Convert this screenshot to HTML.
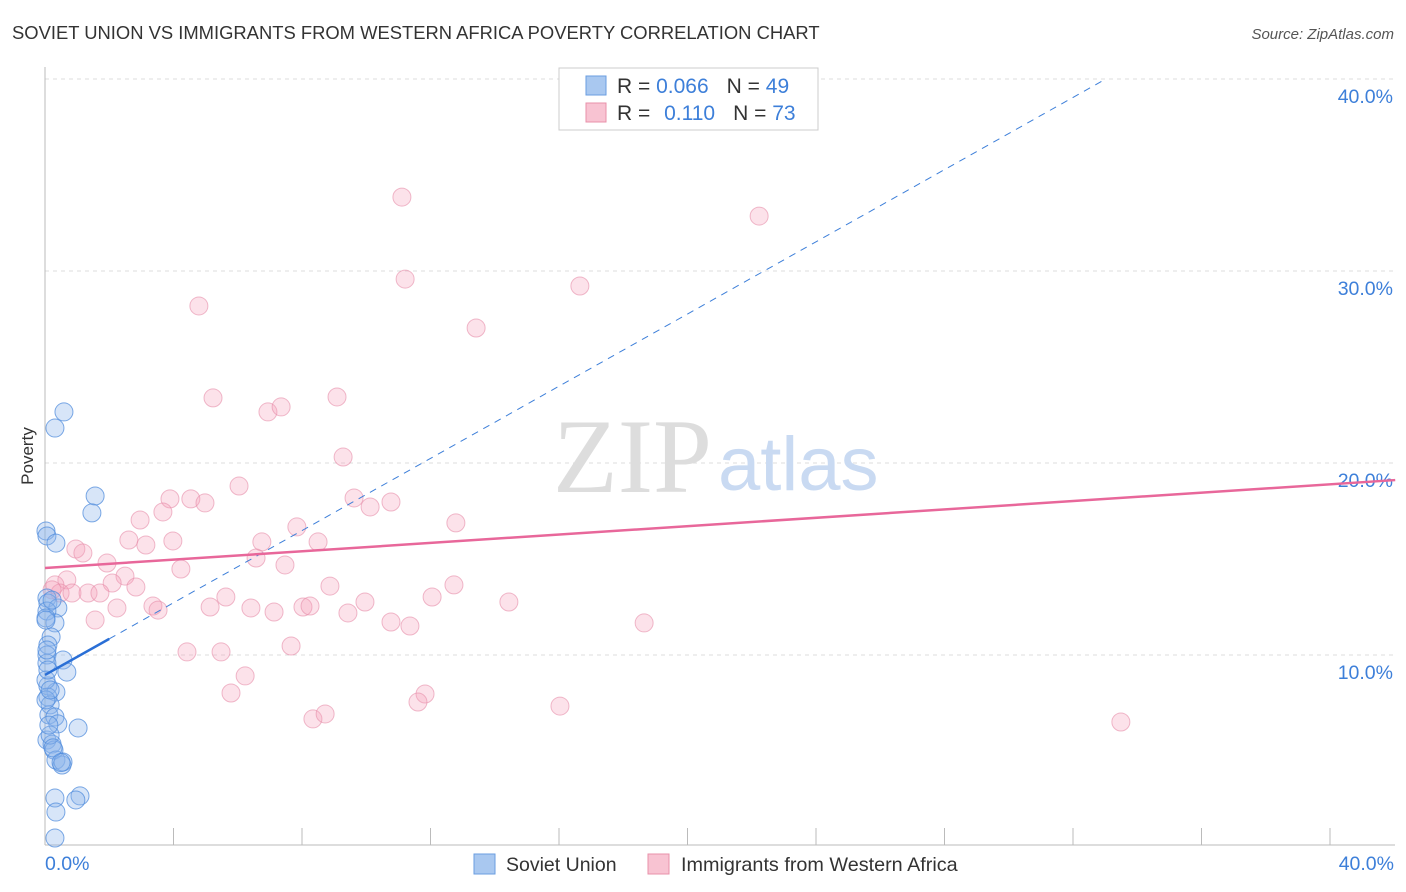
<!DOCTYPE html>
<html><head><meta charset="utf-8"><style>
body{margin:0;background:#fff;font-family:"Liberation Sans",sans-serif}
svg{display:block}
</style></head><body>
<svg id="chart" width="1406" height="892">
<text x="12" y="39" font-size="18.4" fill="#333">SOVIET UNION VS IMMIGRANTS FROM WESTERN AFRICA POVERTY CORRELATION CHART</text>
<text x="1394" y="39" font-size="15" fill="#555" font-style="italic" text-anchor="end">Source: ZipAtlas.com</text>
<text x="0" y="0" transform="translate(33,456) rotate(-90)" font-size="17" fill="#333" text-anchor="middle">Poverty</text>
<g id="grid"></g>
<text x="553" y="492" font-size="106" font-family="Liberation Serif,serif" fill="#ddd">ZIP</text>
<text x="718" y="490" font-size="76" fill="#c9daf2">atlas</text>
<g id="marks"></g>
<g>
<rect x="559" y="68" width="259" height="62" fill="#fff" stroke="#ccc"/>
<rect x="586" y="76" width="20" height="19" fill="#a9c8f0" stroke="#6a9ee0"/>
<text x="617" y="93" font-size="21" fill="#333">R = <tspan fill="#3d7fd9">0.066</tspan><tspan dx="18" fill="#333">N = </tspan><tspan fill="#3d7fd9">49</tspan></text>
<rect x="586" y="103" width="20" height="19" fill="#f8c3d2" stroke="#e890aa"/>
<text x="617" y="120" font-size="21" fill="#333">R = <tspan dx="8" fill="#3d7fd9">0.110</tspan><tspan dx="18" fill="#333">N = </tspan><tspan fill="#3d7fd9">73</tspan></text>
</g>
<g>
<rect x="474" y="854" width="21" height="20" fill="#a9c8f0" stroke="#6a9ee0"/>
<text x="506" y="871" font-size="19.5" fill="#333">Soviet Union</text>
<rect x="648" y="854" width="21" height="20" fill="#f8c3d2" stroke="#e890aa"/>
<text x="681" y="871" font-size="19.8" fill="#333">Immigrants from Western Africa</text>
</g>
</svg>
<script>
const yTicks=[10,20,30,40];
const yTickLabels=["10.0%","20.0%","30.0%","40.0%"];
const xTicks=[0,4,8,12,16,20,24,28,32,36,40];
const sovietX=[0.59,0.31,1.56,1.46,0.03,0.06,0.34,0.06,0.09,0.40,0.06,0.31,0.19,0.09,0.06,0.56,0.06,0.68,0.09,0.34,0.09,0.16,0.12,0.31,0.40,1.03,0.06,0.22,0.28,0.34,0.53,0.56,0.31,1.09,0.96,0.34,0.31,0.03,0.03,0.03,0.16,0.06,0.22,0.03,0.16,0.25,0.50,0.09,0.12];
const sovietY=[22.66,21.82,18.28,17.40,16.46,16.20,15.83,12.97,12.71,12.45,12.29,11.67,10.94,10.52,10.0,9.74,9.58,9.11,8.39,8.07,7.81,7.40,6.88,6.77,6.41,6.20,5.57,5.36,5.05,4.53,4.27,4.43,2.55,2.66,2.45,1.82,0.47,11.93,8.70,7.66,5.83,10.26,12.86,11.82,8.18,5.16,4.40,9.22,6.35];
const wafX=[11.11,22.23,11.21,4.79,16.65,13.42,5.23,6.94,7.35,9.09,9.28,6.04,4.54,4.98,3.89,3.67,2.96,9.62,10.12,10.77,12.79,7.84,6.75,8.50,2.61,3.14,3.98,6.57,7.47,4.23,0.96,1.18,1.93,2.49,2.09,2.83,0.68,0.31,0.47,0.22,0.84,1.34,1.71,5.63,8.87,12.73,12.05,9.96,3.36,3.52,2.24,5.14,6.41,7.13,8.03,8.25,9.43,10.77,11.36,14.44,18.65,1.56,4.42,5.48,7.66,6.23,5.79,11.83,11.61,16.03,8.34,8.72,33.49];
const wafY=[33.85,32.86,29.58,28.18,29.22,27.03,23.39,22.66,22.92,23.44,20.31,18.80,18.13,17.92,18.13,17.45,17.03,18.18,17.71,17.97,16.88,16.67,15.89,15.89,15.99,15.73,15.94,15.05,14.69,14.48,15.52,15.31,14.79,14.11,13.75,13.54,13.91,13.65,13.23,13.39,13.23,13.23,13.23,13.02,13.59,13.65,13.02,12.76,12.55,12.34,12.45,12.50,12.45,12.24,12.50,12.55,12.19,11.72,11.51,12.76,11.67,11.82,10.16,10.16,10.47,8.91,8.02,7.97,7.55,7.34,6.67,6.93,6.51];
const sovietTrend=[8.96,0.94];
const wafTrend=[14.53,0.109];
const X=v=>45+v*32.125, Y=v=>847-v*19.2;
const NS="http://www.w3.org/2000/svg";
function mk(tag,attrs,parent){const e=document.createElementNS(NS,tag);for(const k in attrs)e.setAttribute(k,attrs[k]);parent.appendChild(e);return e;}
const grid=document.getElementById('grid'), marks=document.getElementById('marks');
yTicks.forEach((t,i)=>{
 const l=mk('line',{x1:45,x2:1395,y1:Y(t),y2:Y(t),stroke:'#ddd','stroke-dasharray':'4,4'},grid);
 
 
 const tx=mk('text',{x:1393,y:Y(t)+24,'font-size':19.5,fill:'#3d7fd9','text-anchor':'end'},grid);
 tx.textContent=yTickLabels[i];
 
 
});
const ax=mk('line',{x1:45,x2:1395,y1:845,y2:845,stroke:'#bbb'},grid);


const ay=mk('line',{x1:45,x2:45,y1:67,y2:845,stroke:'#bbb'},grid);


xTicks.forEach(t=>{
 const l=mk('line',{x1:X(t),x2:X(t),y1:828,y2:845,stroke:'#bbb'},grid);
 
 
});
[[0,"0.0%",'start',45],[40,"40.0%",'end',1394]].forEach(d=>{
 const tx=mk('text',{x:d[3],y:870,'font-size':19.5,fill:'#3d7fd9','text-anchor':d[2]},grid);
 tx.textContent=d[1];
 
 
});
wafX.forEach((x,i)=>{
 const c=mk('circle',{cx:X(x),cy:Y(wafY[i]),r:9,fill:'rgba(244,160,185,0.3)',stroke:'rgba(230,140,168,0.6)','stroke-width':1},marks);
 
 
});
sovietX.forEach((x,i)=>{
 const c=mk('circle',{cx:X(x),cy:Y(sovietY[i]),r:9,fill:'rgba(140,180,235,0.35)',stroke:'rgba(80,140,220,0.75)','stroke-width':1},marks);
 
 
});
const xEnd=(40-sovietTrend[0])/sovietTrend[1];
const d1=mk('line',{x1:X(2),y1:Y(sovietTrend[0]+2*sovietTrend[1]),x2:X(xEnd),y2:Y(40),stroke:'#3d7fd9','stroke-width':1,'stroke-dasharray':'7,6'},marks);


const s1=mk('line',{x1:X(0),y1:Y(sovietTrend[0]),x2:X(2),y2:Y(sovietTrend[0]+2*sovietTrend[1]),stroke:'#2a6fd6','stroke-width':2.5},marks);


const p1=mk('line',{x1:X(0),y1:Y(wafTrend[0]),x2:X(42.03),y2:Y(wafTrend[0]+42.03*wafTrend[1]),stroke:'#e8679a','stroke-width':2.5},marks);


</script>
</body></html>
